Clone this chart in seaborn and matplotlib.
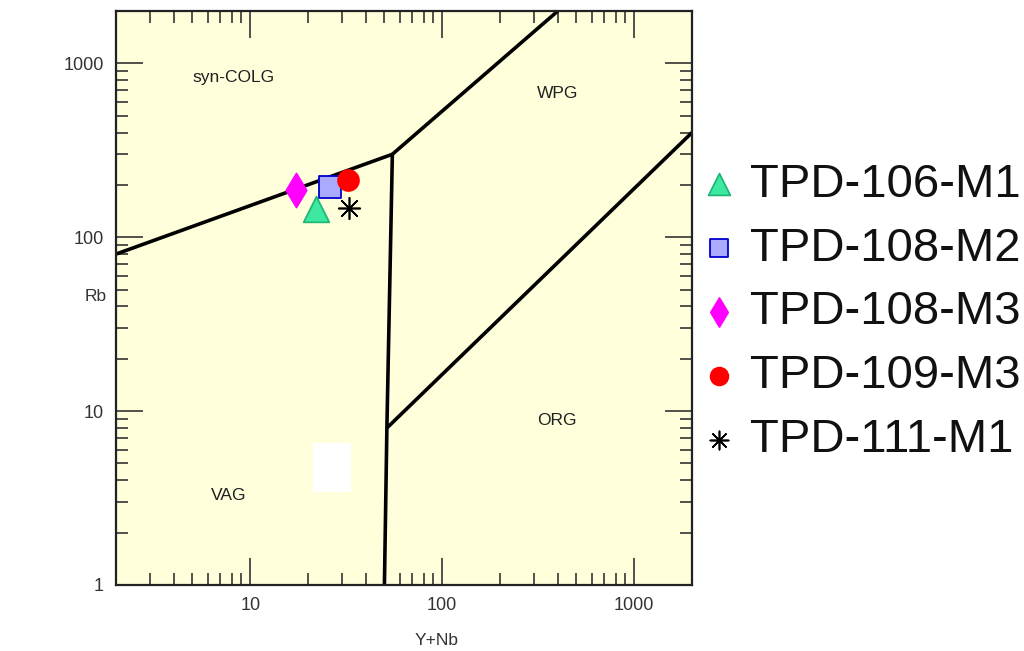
import numpy as np
import pandas as pd
import matplotlib
matplotlib.use("Agg")
import matplotlib.pyplot as plt
from matplotlib.ticker import LogLocator, FixedLocator, FixedFormatter, NullFormatter
from matplotlib.patches import Rectangle
import seaborn as sns

# Sample compositions (Y+Nb vs Rb, ppm)
samples = ["TPD-106-M1", "TPD-108-M2", "TPD-108-M3", "TPD-109-M3", "TPD-111-M1"]
y_nb = [22.1, 25.9, 17.4, 32.2, 32.5]
rb = [146, 194, 187, 213, 148]

# Marker styling per sample
markers = ["^", "s", "d", "o", (8, 2, 0)]
face_colors = ["#3FE8A0", "#AAAAFF", "#FF00FF", "#FF0000", "#000000"]
edge_colors = ["#1FB878", "#0000CC", "#FF00FF", "#FF0000", "#000000"]
marker_sizes = [340, 256, 300, 225, 240]

# Pearce et al. (1984) discrimination boundaries
colg_vag_x = [2, 55]
colg_vag_y = [80, 300]
colg_wpg_x = [55, 400]
colg_wpg_y = [300, 2000]
vag_wpg_x = [55, 51.5, 50]
vag_wpg_y = [300, 8, 1]
wpg_org_x = [51.5, 2000]
wpg_org_y = [8, 400]

# Field names and their positions
field_names = ["syn-COLG", "WPG", "ORG", "VAG"]
field_x = [8.2, 397, 397, 7.7]
field_y = [832, 672, 8.87, 3.29]

# Blank patch over the VAG field
patch_x = [21.3, 33.6]
patch_y = [3.44, 6.52]

sns.set_style("white")
plt.rcParams["font.family"] = ["Liberation Sans", "DejaVu Sans"]

fig = plt.figure(figsize=(10.24, 6.51), dpi=100)
ax = fig.add_axes([0.1133, 0.1014, 0.5625, 0.8817])
ax.set_facecolor("#FFFFDC")
ax.set_xscale("log")
ax.set_yscale("log")
ax.set_xlim(2, 2000)
ax.set_ylim(1, 2000)

ax.add_patch(Rectangle((patch_x[0], patch_y[0]), patch_x[1] - patch_x[0],
                       patch_y[1] - patch_y[0], facecolor="white",
                       edgecolor="none", zorder=1))

for bx, by in [(colg_vag_x, colg_vag_y), (colg_wpg_x, colg_wpg_y),
               (vag_wpg_x, vag_wpg_y), (wpg_org_x, wpg_org_y)]:
    ax.plot(bx, by, color="black", lw=2.6, solid_capstyle="butt", zorder=2)

for name, fx, fy in zip(field_names, field_x, field_y):
    ax.text(fx, fy, name, ha="center", va="center", fontsize=12.5,
            color="#202020", zorder=3)

df = pd.DataFrame({"sample": samples, "x": y_nb, "y": rb})
for i, row in df.iterrows():
    kw = dict(marker=markers[i], s=marker_sizes[i], zorder=4, label=row["sample"])
    if i == 4:
        sns.scatterplot(x=[row["x"]], y=[row["y"]], color=face_colors[i],
                        linewidth=1.2, ax=ax, **kw)
    else:
        sns.scatterplot(x=[row["x"]], y=[row["y"]], color=face_colors[i],
                        edgecolor=edge_colors[i], linewidth=1.3, ax=ax, **kw)

# Axes frame and ticks
for sp in ax.spines.values():
    sp.set_linewidth(1.6)
    sp.set_color("#222222")

ax.xaxis.set_major_locator(FixedLocator([10, 100, 1000]))
ax.xaxis.set_major_formatter(FixedFormatter(["10", "100", "1000"]))
ax.yaxis.set_major_locator(FixedLocator([1, 10, 100, 1000]))
ax.yaxis.set_major_formatter(FixedFormatter(["1", "10", "100", "1000"]))
for axis in (ax.xaxis, ax.yaxis):
    axis.set_minor_locator(LogLocator(base=10, subs=np.arange(2, 10), numticks=20))
    axis.set_minor_formatter(NullFormatter())

ax.tick_params(which="both", direction="in", top=True, right=True,
               bottom=True, left=True, width=1.1, color="#222222",
               labelsize=13, pad=9, labelcolor="#333333")
ax.tick_params(which="major", length=19.5)
ax.tick_params(which="minor", length=8.6)

ax.set_xlabel("Y+Nb", fontsize=12.5, color="#333333")
ax.set_ylabel("Rb", fontsize=12.5, color="#333333", rotation=0)
ax.xaxis.set_label_coords(0.557, -0.084)
ax.yaxis.label.set_verticalalignment("center")
ax.yaxis.set_label_coords(-0.035, 0.503)

handles, labels = ax.get_legend_handles_labels()
if ax.legend_:
    ax.legend_.remove()
fig.legend(handles, labels, loc="center left", bbox_to_anchor=(0.684, 0.52),
           frameon=False, fontsize=34, handlelength=0.8, handletextpad=0.25,
           labelspacing=0.42, borderpad=0, borderaxespad=0, markerscale=0.85,
           labelcolor="#111111")

fig.savefig("out.png", dpi=100, facecolor="white")
